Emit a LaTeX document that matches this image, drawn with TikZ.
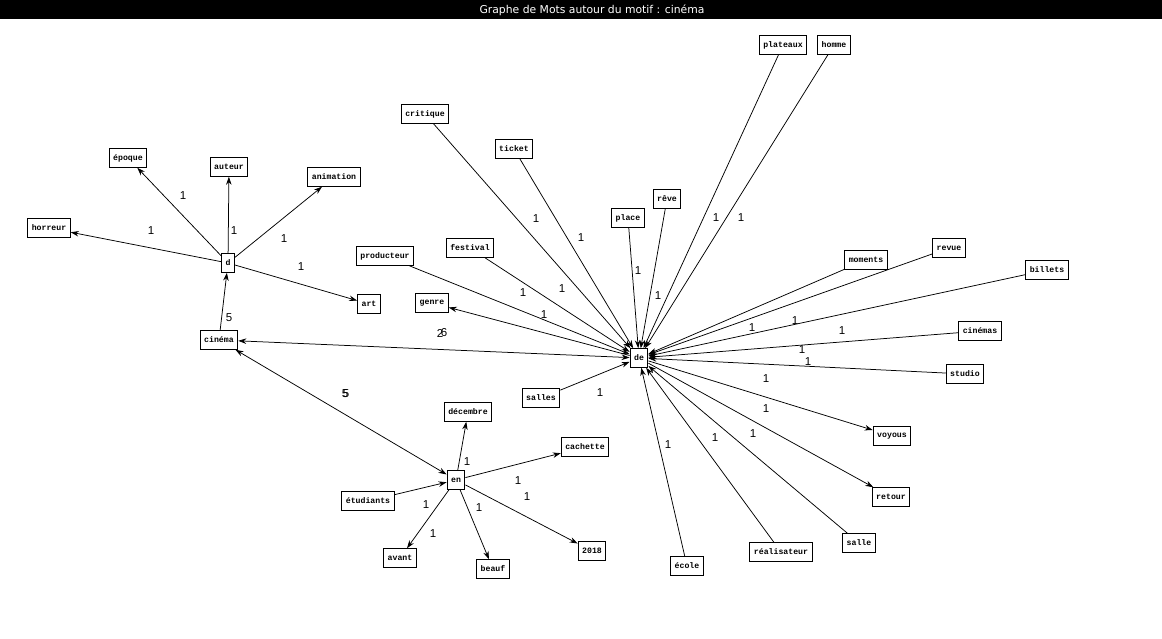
\documentclass[tikz,border=0pt]{standalone}
\usepackage{fontspec}
\setmainfont{Liberation Serif}
\newfontfamily\boxfont{Liberation Mono}
\newfontfamily\labfont{Liberation Sans}
\newfontfamily\titlefont{DejaVu Sans}
\usetikzlibrary{arrows.meta}
\begin{document}
\begin{tikzpicture}[x=1pt,y=-1pt,
  word/.style={draw,line width=1pt,fill=white,font=\boxfont\bfseries\fontsize{8.2}{9}\selectfont,inner xsep=4pt,inner ysep=0pt,minimum height=18.5pt},
  lab/.style={font=\labfont\fontsize{11.5}{12}\selectfont,inner sep=0pt},
  edge/.style={line width=0.75pt,-{Stealth[length=8pt,width=5.5pt]}},
  bedge/.style={line width=0.75pt,{Stealth[length=8pt,width=5.5pt]}-{Stealth[length=8pt,width=5.5pt]}}]
\useasboundingbox (0,0) rectangle (1162,639);
\fill[black] (0,0) rectangle (1162,19);
\node[text=white,font=\titlefont\fontsize{10.8}{12}\selectfont,inner sep=0pt] (title) at (592,10) {Graphe de Mots autour du motif : cinéma};
% nodes
\node[word] (horreur) at (49,228) {horreur};
\node[word] (epoque) at (128,158) {époque};
\node[word] (auteur) at (229,167) {auteur};
\node[word] (animation) at (334,177) {animation};
\node[word] (d) at (228,263) {d};
\node[word] (art) at (369,304) {art};
\node[word] (cinema) at (219,340) {cinéma};
\node[word] (producteur) at (385,256) {producteur};
\node[word] (festival) at (470,248) {festival};
\node[word] (genre) at (432,303) {genre};
\node[word] (critique) at (425,114) {critique};
\node[word] (ticket) at (514,149) {ticket};
\node[word] (place) at (628,218) {place};
\node[word] (reve) at (667,199) {rêve};
\node[word] (plateaux) at (783,45) {plateaux};
\node[word] (homme) at (834,45) {homme};
\node[word] (de) at (639,358) {de};
\node[word] (moments) at (866,260) {moments};
\node[word] (revue) at (949,248) {revue};
\node[word] (billets) at (1047,270) {billets};
\node[word] (cinemas) at (980,331) {cinémas};
\node[word] (studio) at (965,374) {studio};
\node[word] (voyous) at (892,436) {voyous};
\node[word] (retour) at (891,497) {retour};
\node[word] (salle) at (859,543) {salle};
\node[word] (realisateur) at (781,552) {réalisateur};
\node[word] (ecole) at (687,566) {école};
\node[word] (salles) at (541,398) {salles};
\node[word] (decembre) at (468,412) {décembre};
\node[word] (cachette) at (585,447) {cachette};
\node[word] (en) at (456,480) {en};
\node[word] (etudiants) at (368,501) {étudiants};
\node[word] (avant) at (400,558) {avant};
\node[word] (beauf) at (493,569) {beauf};
\node[word] (an2018) at (592,551) {2018};
% edges around d
\draw[edge] (d) -- (horreur);
\draw[edge] (d) -- (epoque);
\draw[edge] (d) -- (auteur);
\draw[edge] (d) -- (animation);
\draw[edge] (d) -- (art);
\draw[edge] (cinema) -- (d);
% cinema links
\draw[bedge] (cinema) -- (de);
\draw[bedge] (cinema) -- (en);
% edges into de
\draw[edge] (de) -- (genre);
\foreach \n in {producteur,festival,critique,ticket,place,reve,plateaux,homme,moments,revue,billets,cinemas,studio,salles,ecole,realisateur,salle}
  \draw[edge] (\n) -- (de);
\draw[edge] (de) -- (voyous);
\draw[edge] (de) -- (retour);
% edges around en
\draw[edge] (en) -- (decembre);
\draw[edge] (en) -- (cachette);
\draw[edge] (en) -- (an2018);
\draw[edge] (en) -- (beauf);
\draw[edge] (en) -- (avant);
\draw[edge] (etudiants) -- (en);
% labels
\node[lab] (l1) at (183,196) {1};
\node[lab] (l2) at (151,231) {1};
\node[lab] (l3) at (234,231) {1};
\node[lab] (l4) at (284,239) {1};
\node[lab] (l5) at (301,267) {1};
\node[lab] (l6) at (229,318) {5};
\node[lab] (l7a) at (440,333) {2};
\node[lab] (l7b) at (444,333) {6};
\node[lab] (l8a) at (345,394) {5};
\node[lab] (l8b) at (346,394) {5};
\node[lab] (l9) at (536,219) {1};
\node[lab] (l10) at (581,238) {1};
\node[lab] (l11) at (523,293) {1};
\node[lab] (l12) at (562,289) {1};
\node[lab] (l13) at (544,315) {1};
\node[lab] (l14) at (638,271) {1};
\node[lab] (l15) at (658,296) {1};
\node[lab] (l16) at (716,218) {1};
\node[lab] (l17) at (741,218) {1};
\node[lab] (l18) at (752,328) {1};
\node[lab] (l19) at (795,321) {1};
\node[lab] (l20) at (842,331) {1};
\node[lab] (l21) at (802,350) {1};
\node[lab] (l22) at (808,362) {1};
\node[lab] (l23) at (766,379) {1};
\node[lab] (l24) at (766,409) {1};
\node[lab] (l25) at (753,434) {1};
\node[lab] (l26) at (715,438) {1};
\node[lab] (l27) at (668,445) {1};
\node[lab] (l28) at (600,393) {1};
\node[lab] (l29) at (467,462) {1};
\node[lab] (l30) at (518,481) {1};
\node[lab] (l31) at (527,497) {1};
\node[lab] (l32) at (479,508) {1};
\node[lab] (l33) at (426,505) {1};
\node[lab] (l34) at (433,534) {1};
\end{tikzpicture}
\end{document}
